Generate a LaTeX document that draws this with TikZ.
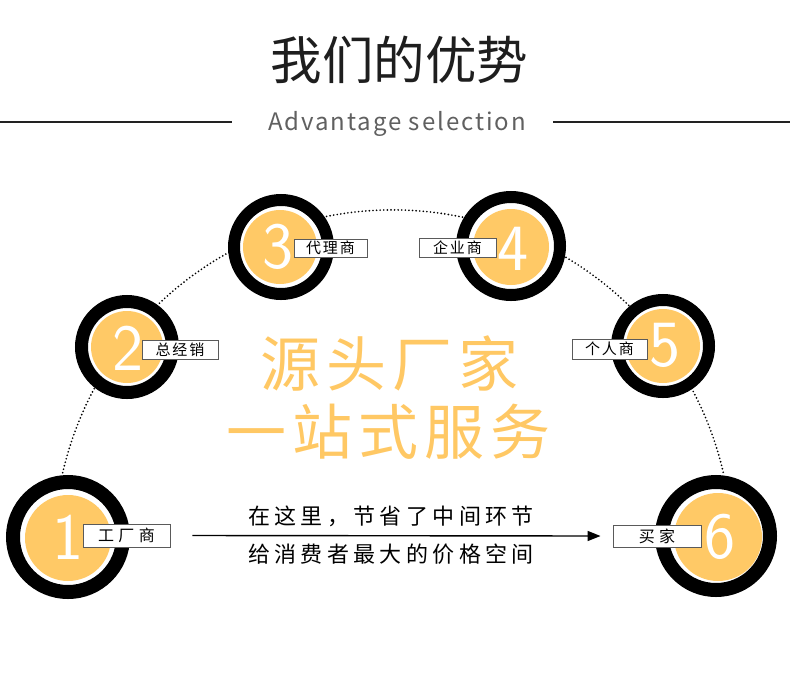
\documentclass[tikz,border=0pt]{standalone}
\usepackage{fontspec}
\usetikzlibrary{arrows.meta}
\setmainfont{Noto Sans CJK SC}
\newfontfamily\cjk{Noto Sans CJK SC}
\definecolor{yel}{HTML}{FFC966}
\definecolor{bigyel}{HTML}{FFC864}
\definecolor{boxgray}{HTML}{5A5A5A}
\definecolor{titlecol}{HTML}{1E1E1E}
\definecolor{subcol}{HTML}{606060}
\definecolor{linecol}{HTML}{222222}
\newcommand\myfs[1]{\fontsize{#1}{#1}\selectfont}
\newcommand\myls[1]{\addfontfeature{LetterSpace=#1}}
\tikzset{
  ring/.style={circle, draw=black, fill=white, inner sep=0pt, line width=#1},
  disc/.style={circle, fill=yel, inner sep=0pt},
  digit/.style={text=white, font=\sffamily\myfs{66}, inner sep=0pt},
  labbig/.style={draw=boxgray, fill=white, line width=0.9pt, inner sep=0pt, text=black,
     font=\cjk\myfs{16}\myls{28}},
  labsmall/.style={draw=boxgray, fill=white, line width=0.9pt, inner sep=0pt, text=black,
     font=\cjk\myfs{15}\myls{13}},
  dots/.style={line width=1.9pt, dash pattern=on 0pt off 3.6pt, line cap=round},
  hline/.style={line width=1.6pt, draw=linecol},
  bigtext/.style={text=bigyel, font=\cjk\myfs{60}\myls{10}, inner sep=0pt},
  midtext/.style={text=black, font=\cjk\myfs{22}\myls{20}, inner sep=0pt},
}
\begin{document}
\begin{tikzpicture}[x=1pt,y=-1pt]
\useasboundingbox (0,0) rectangle (790,686);
\fill[white] (0,0) rectangle (790,686);

% title
\node[text=titlecol, font=\cjk\myfs{51.5}, inner sep=0pt] (title) at (399.5,60) {我们的优势};
\node[text=subcol, font=\cjk\myfs{24}\myls{8}, inner sep=0pt, anchor=base] (sub) at (397,130) {Advantage selection};
\coordinate (la) at (0,122);
\coordinate (lb) at (232,122);
\coordinate (ra) at (553,122);
\coordinate (rb) at (790,122);
\draw[hline] (la) -- (lb);
\draw[hline] (ra) -- (rb);

% dotted arc
\draw[dots] (62.7,472.7) arc[start angle=167, end angle=13, radius=339pt];

% circles
\node[ring=14pt, minimum size=110pt] (r1) at (68,537) {};
\node[disc, minimum size=86pt] (y1) at (68,538) {};
\node[ring=13pt, minimum size=91pt] (r2) at (127,347) {};
\node[disc, minimum size=72pt] (y2) at (127,347) {};
\node[ring=12pt, minimum size=94pt] (r3) at (281,247) {};
\node[disc, minimum size=74pt] (y3) at (280,247) {};
\node[ring=12pt, minimum size=98pt] (r4) at (511,246) {};
\node[disc, minimum size=76pt] (y4) at (511,247) {};
\node[ring=12pt, minimum size=92pt] (r5) at (663,346) {};
\node[disc, minimum size=74pt] (y5) at (663,346) {};
\node[ring=14pt, minimum size=108pt] (r6) at (716,536) {};
\node[disc, minimum size=88pt] (y6) at (718,537) {};

% digits
\node[digit] (d1) at (68,537) {1};
\node[digit] (d2) at (128,348) {2};
\node[digit] (d3) at (278,247) {3};
\node[digit] (d4) at (513,249) {4};
\node[digit] (d5) at (665,345) {5};
\node[digit] (d6) at (720,537) {6};

% labels
\node[labbig, minimum width=87pt, minimum height=23pt] (b1) at (126.5,535.5) {工厂商};
\node[labsmall, minimum width=76pt, minimum height=19pt] (b2) at (180,349.5) {总经销};
\node[labsmall, minimum width=73pt, minimum height=18pt] (b3) at (330.5,248) {代理商};
\node[labsmall, minimum width=77pt, minimum height=19pt] (b4) at (457.5,247.5) {企业商};
\node[labsmall, minimum width=75pt, minimum height=20pt] (b5) at (609.5,349) {个人商};
\node[labbig, minimum width=88pt, minimum height=22pt] (b6) at (657,536) {买家};

% arrow
\draw[line width=1.4pt, -{Triangle[length=13pt, width=10pt]}] ([xshift=22pt]b1.east) -- ([xshift=-12pt]b6.west);

% centre texts
\node[bigtext] (big1) at (389,363) {源头厂家};
\node[bigtext] (big2) at (388,432) {一站式服务};
\node[midtext] (m1) at (391,516) {在这里，节省了中间环节};
\node[midtext] (m2) at (391,554) {给消费者最大的价格空间};
\end{tikzpicture}
\end{document}
